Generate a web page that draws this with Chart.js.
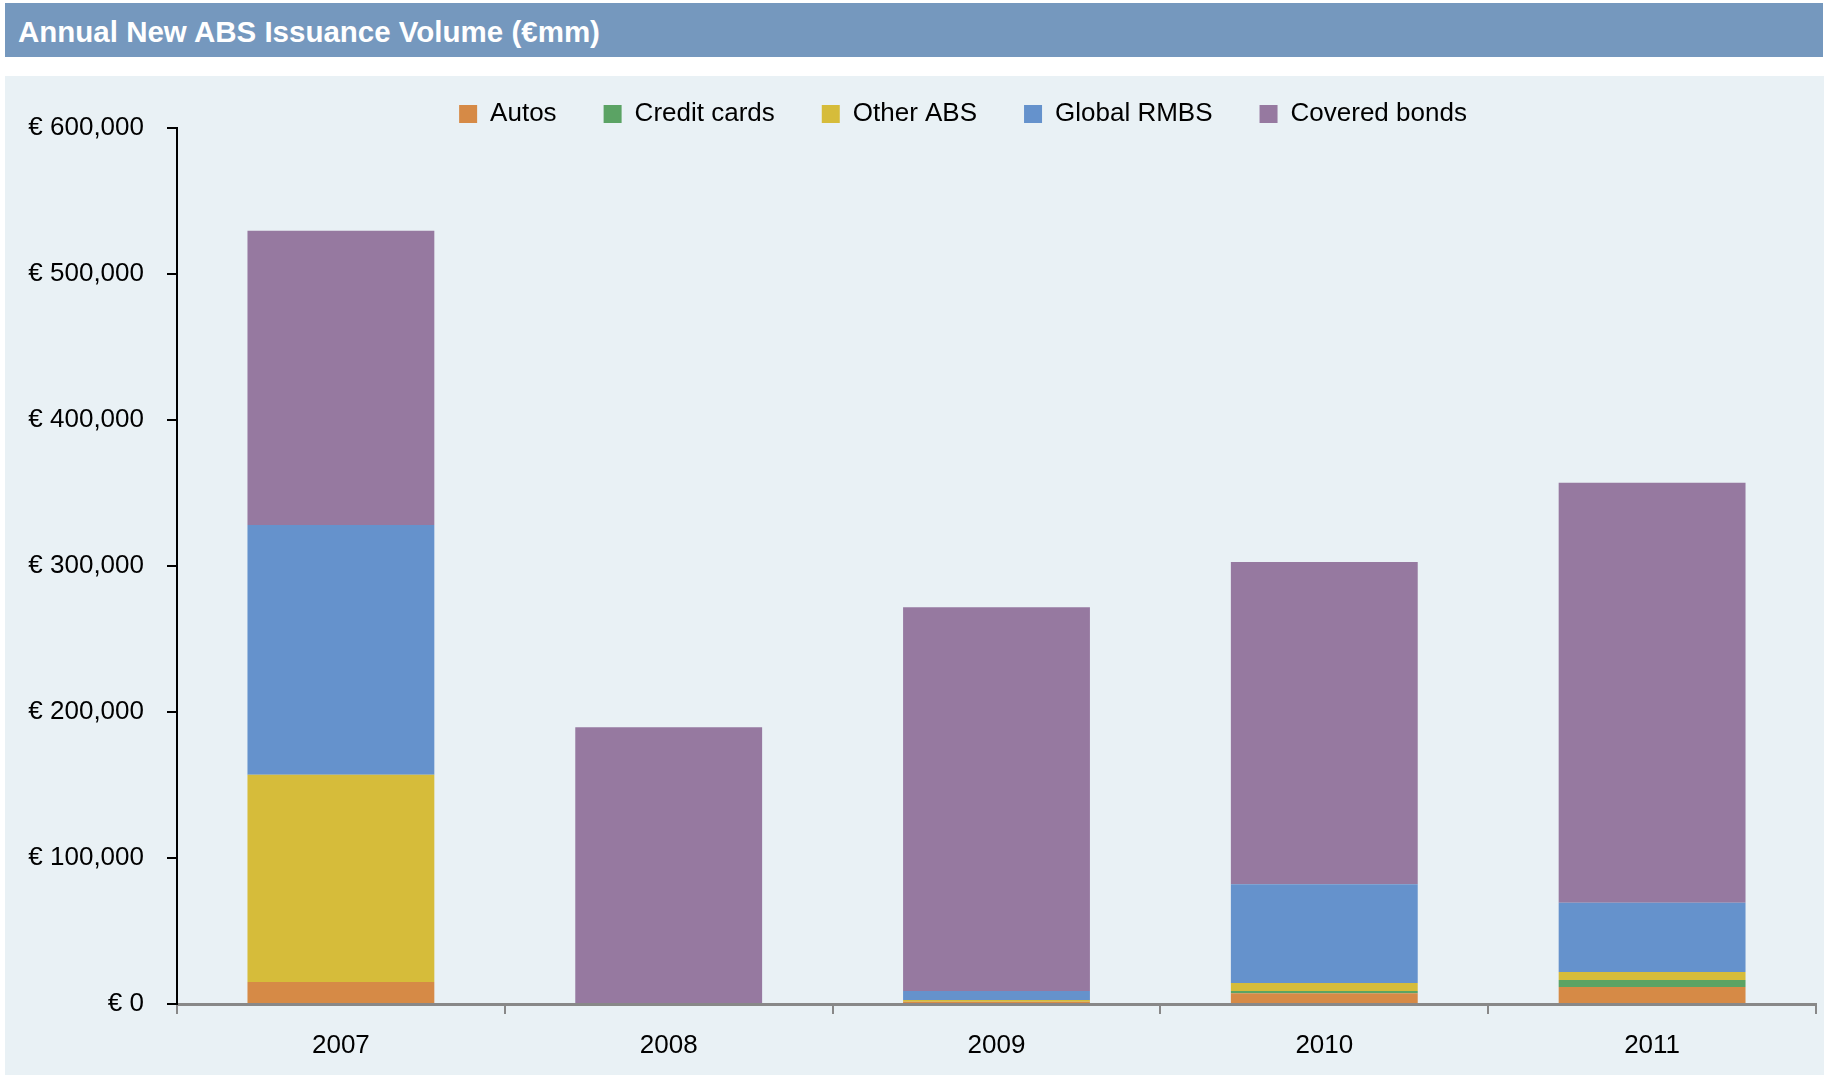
<!DOCTYPE html>
<html>
<head>
<meta charset="utf-8">
<title>Annual New ABS Issuance Volume</title>
<script src="https://cdn.jsdelivr.net/npm/chart.js@4.4.0/dist/chart.umd.min.js"></script>
<style>
  html, body { margin: 0; padding: 0; background: #fff; }
  body { width: 1824px; height: 1075px; position: relative; overflow: hidden; font-family: "Liberation Sans", Arial, sans-serif; }
  #title { position: absolute; left: 5px; top: 3px; width: 1818px; height: 54px; box-sizing: border-box; padding-left: 13px;
           background: #7598BE; color: #fff; font-weight: bold; font-size: 29.5px; line-height: 58px; }
  #panel { position: absolute; left: 5px; top: 76px; width: 1819px; height: 999px; background: #E9F1F5; }
</style>
</head>
<body>
<div id="title">Annual New ABS Issuance Volume (€mm)</div>
<div id="panel"><canvas id="absChart"></canvas></div>
<script>
// Volumes in € millions
const years = ['2007', '2008', '2009', '2010', '2011'];
const autos = [15000, 0, 1600, 7300, 11600];
const creditCards = [0, 0, 0, 1600, 4800];
const otherAbs = [142000, 0, 1100, 5500, 5500];
const globalRmbs = [171000, 0, 6200, 67700, 47400];
const coveredBonds = [201600, 189600, 262800, 220700, 287700];
const yMax = 600000;
const yStep = 100000;

const font = { family: '"Liberation Sans", Arial, sans-serif', size: 26 };
const legendGap = 47;

// keep legend where the original has it, independent of chart area
const legendPlacement = {
    id: 'legendPlacement',
    beforeInit(chart) {
        const fit = chart.legend.fit;
        chart.legend.fit = function () {
            fit.bind(chart.legend)();
            this.height = 52;
        };
    },
    afterLayout(chart) {
        const lg = chart.legend;
        lg.left = 958 - 900;
        lg.right = 958 + 900;
        lg.top = 38 - legendGap - 13;
    }
};

const ctx = document.getElementById('absChart').getContext('2d');
new Chart(ctx, {
    type: 'bar',
    data: {
        labels: years,
        datasets: [
            { label: 'Autos', data: autos, backgroundColor: '#D68A46' },
            { label: 'Credit cards', data: creditCards, backgroundColor: '#5BA364' },
            { label: 'Other ABS', data: otherAbs, backgroundColor: '#D6BC3A' },
            { label: 'Global RMBS', data: globalRmbs, backgroundColor: '#6592CC' },
            { label: 'Covered bonds', data: coveredBonds, backgroundColor: '#9679A0' }
        ]
    },
    options: {
        responsive: true,
        maintainAspectRatio: false,
        animation: false,
        barPercentage: 0.57,
        categoryPercentage: 1.0,
        layout: { padding: { left: 0, right: 8, top: 0, bottom: 0 } },
        plugins: {
            legend: {
                position: 'top',
                labels: { font: font, color: '#000', boxWidth: 18, boxHeight: 18, padding: legendGap }
            },
            tooltip: { enabled: false }
        },
        scales: {
            x: {
                stacked: true,
                grid: { offset: true, drawOnChartArea: false, tickLength: 10, color: '#888', lineWidth: 2 },
                border: { color: '#888', width: 3 },
                ticks: { font: font, color: '#000', padding: 16 },
                afterFit: (s) => { s.height = 71; }
            },
            y: {
                stacked: true,
                min: 0,
                max: yMax,
                grid: { drawOnChartArea: false, tickLength: 10, color: '#000', lineWidth: 2 },
                border: { color: '#000', width: 2 },
                ticks: {
                    stepSize: yStep,
                    font: font,
                    color: '#000',
                    padding: 23,
                    callback: (value) => '€ ' + value.toLocaleString('en-US')
                },
                afterFit: (s) => { s.width = 172; }
            }
        }
    },
    plugins: [legendPlacement]
});
</script>
</body>
</html>
